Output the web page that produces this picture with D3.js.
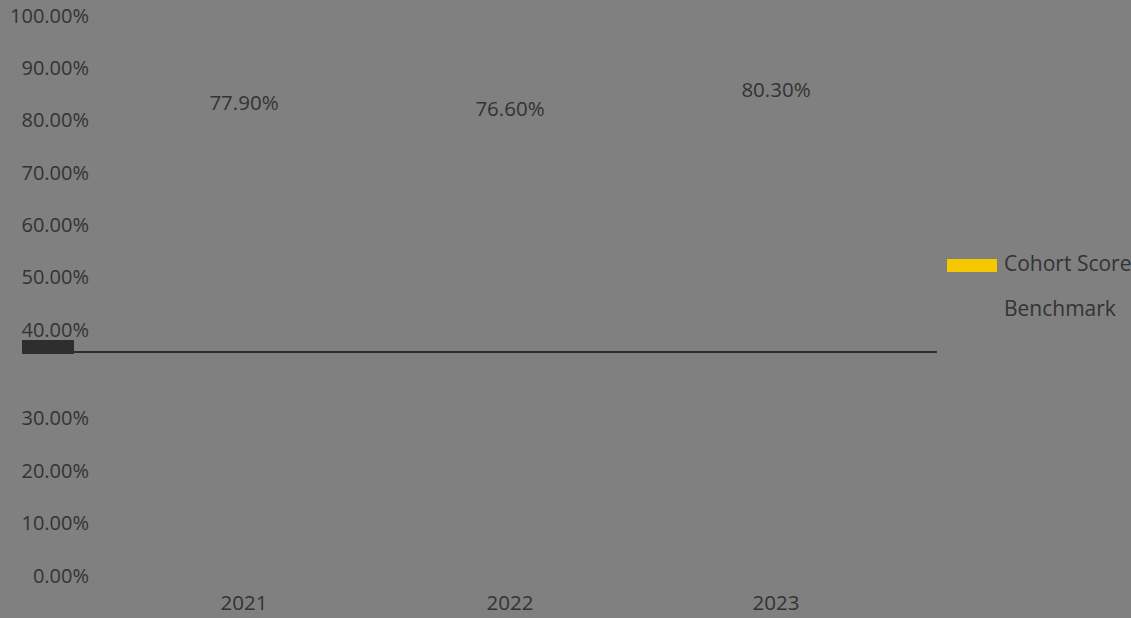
<!DOCTYPE html>
<html>
<head>
<meta charset="utf-8">
<script src="https://cdn.jsdelivr.net/npm/d3@7"></script>
<style>
  body { margin: 0; background: #808080; }
  svg { display: block; }
</style>
</head>
<body>
<script>
// Data
var years = ["2021", "2022", "2023"];
var cohortScore = [0.779, 0.766, 0.803];
var benchmark = [0.40, 0.40, 0.40];
var yTicks = [0, 0.1, 0.2, 0.3, 0.4, 0.5, 0.6, 0.7, 0.8, 0.9, 1.0];
var legendLabels = ["Cohort Score", "Benchmark"];

var width = 1131, height = 618;
var bg = "#808080", ink = "#333333";

var svg = d3.select("body").append("svg")
    .attr("width", width)
    .attr("height", height)
    .style("font-family", "'Open Sans', 'Liberation Sans', sans-serif");

svg.append("rect").attr("width", width).attr("height", height).attr("fill", bg);

// Scales (the source picture is stretched around the benchmark, so piecewise)
var x = d3.scaleBand().domain(years).range([111, 909]);
var y = d3.scaleLinear()
    .domain([0, 0.3, 0.4, 0.5, 1])
    .range([576, 418, 352, 277, 16]);
var fmt = d3.format(".2%");

// Y axis labels
svg.append("g").selectAll("text")
    .data(yTicks)
    .enter()
    .append("text")
    .attr("x", 89)
    .attr("y", function(d) { return d === 0.4 ? y(d) - 22 : y(d); })
    .attr("dy", "0.35em")
    .attr("text-anchor", "end")
    .attr("font-size", "20px")
    .attr("fill", ink)
    .text(function(d) { return fmt(d); });

// Bars (same colour as background, so they vanish)
svg.append("g").selectAll("rect")
    .data(cohortScore)
    .enter()
    .append("rect")
    .attr("x", function(d, i) { return x(years[i]) + x.bandwidth() * 0.2; })
    .attr("width", x.bandwidth() * 0.6)
    .attr("y", function(d) { return y(d); })
    .attr("height", function(d) { return y(0) - y(d); })
    .attr("fill", bg);

// Data labels
svg.append("g").selectAll("text")
    .data(cohortScore)
    .enter()
    .append("text")
    .attr("x", function(d, i) { return x(years[i]) + x.bandwidth() / 2; })
    .attr("y", function(d) { return y(d) - 29; })
    .attr("dy", "0.35em")
    .attr("text-anchor", "middle")
    .attr("font-size", "20.5px")
    .attr("fill", ink)
    .text(function(d) { return fmt(d); });

// dark smudge over the 40% label
svg.append("rect")
    .attr("x", 22).attr("y", y(benchmark[0]) - 12)
    .attr("width", 52).attr("height", 14)
    .attr("fill", "#2e2e2e");

// Benchmark line
svg.append("line")
    .attr("x1", 22).attr("x2", 937)
    .attr("y1", y(benchmark[0])).attr("y2", y(benchmark[0]))
    .attr("stroke", "#2e2e2e")
    .attr("stroke-width", 2);

// X axis labels
svg.append("g").selectAll("text")
    .data(years)
    .enter()
    .append("text")
    .attr("x", function(d) { return x(d) + x.bandwidth() / 2; })
    .attr("y", 603)
    .attr("dy", "0.35em")
    .attr("text-anchor", "middle")
    .attr("font-size", "20.5px")
    .attr("fill", ink)
    .text(function(d) { return d; });

// Legend
var legend = svg.append("g");
legend.append("rect")
    .attr("x", 947).attr("y", 259)
    .attr("width", 50).attr("height", 13)
    .attr("fill", "#f5c800");
legend.selectAll("text")
    .data(legendLabels)
    .enter()
    .append("text")
    .attr("x", 1004)
    .attr("y", function(d, i) { return 264 + i * 45; })
    .attr("dy", "0.35em")
    .attr("font-size", "21px")
    .attr("fill", ink)
    .text(function(d) { return d; });
</script>
</body>
</html>
